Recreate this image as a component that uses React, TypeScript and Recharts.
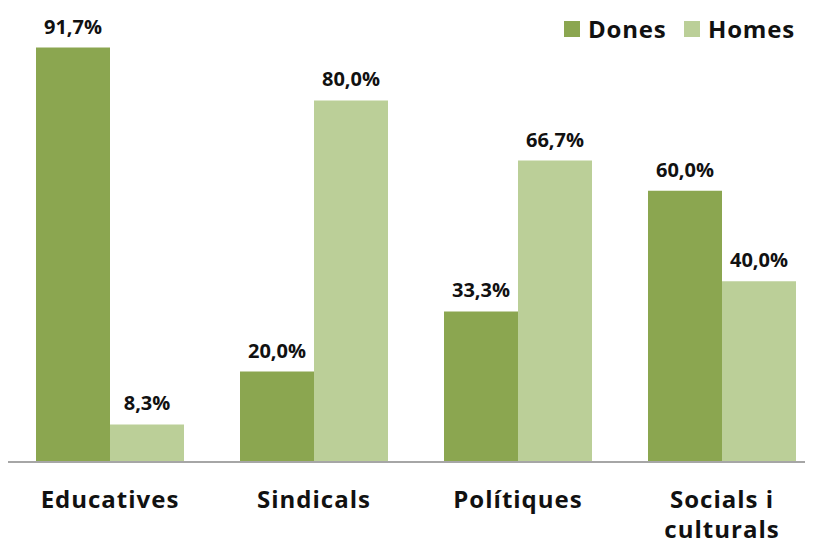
import { Bar, BarChart, LabelList, XAxis, YAxis } from "recharts";

const categories = ["Educatives", "Sindicals", "Polítiques", "Socials i culturals"];
const tickLines: Record<string, string[]> = {
  Educatives: ["Educatives"],
  Sindicals: ["Sindicals"],
  Polítiques: ["Polítiques"],
  "Socials i culturals": ["Socials i", "culturals"],
};
const dones = [91.7, 20.0, 33.3, 60.0];
const homes = [8.3, 80.0, 66.7, 40.0];

const DARK = "#8ba650";
const LIGHT = "#bbcf98";
const FONT = "'Open Sans', sans-serif";

const data = categories.map((name, i) => ({ name, dones: dones[i], homes: homes[i] }));

const fmtPct = (v: number) => v.toFixed(1).replace(".", ",") + "%";

function CategoryTick(props: any) {
  const { x, y, payload } = props;
  const lines = tickLines[payload.value] ?? [payload.value];
  return (
    <text
      x={x}
      y={y}
      textAnchor="middle"
      fill="#111"
      fontFamily={FONT}
      fontWeight={700}
      fontSize={24}
      letterSpacing={1}
    >
      {lines.map((l, i) => (
        <tspan key={l} x={x} dy={i === 0 ? 46 : 30}>
          {l}
        </tspan>
      ))}
    </text>
  );
}

function LegendBox() {
  const item = (color: string, label: string, left: number) => (
    <div style={{ position: "absolute", left, top: 0, display: "flex", alignItems: "center" }}>
      <div style={{ width: 16, height: 16, background: color, marginRight: 8 }} />
      <span
        style={{
          fontFamily: FONT,
          fontWeight: 700,
          fontSize: 24,
          letterSpacing: 0.8,
          color: "#111",
          lineHeight: "16px",
        }}
      >
        {label}
      </span>
    </div>
  );
  return (
    <div style={{ position: "absolute", left: 0, top: 13 }}>
      {item(DARK, "Dones", 556)}
      {item(LIGHT, "Homes", 676)}
    </div>
  );
}

const labelStyle = { fontFamily: FONT, fontWeight: 700, fontSize: 20, fill: "#111" };

export default function App() {
  return (
    <div style={{ position: "relative", width: 805, height: 536 }}>
      <BarChart
        width={805}
        height={536}
        data={data}
        margin={{ top: 2, right: -11, left: 0, bottom: 0 }}
        barCategoryGap={28}
        barGap={0}
      >
        <XAxis
          dataKey="name"
          height={82}
          tickLine={false}
          tickSize={0}
          tickMargin={0}
          axisLine={{ stroke: "#a6a6a6", strokeWidth: 2 }}
          tick={<CategoryTick />}
          interval={0}
        />
        <YAxis hide domain={[0, 100]} />
        <Bar dataKey="dones" fill={DARK} barSize={74} isAnimationActive={false}>
          <LabelList
            dataKey="dones"
            position="top"
            offset={14}
            formatter={(v: any) => fmtPct(Number(v))}
            style={labelStyle}
          />
        </Bar>
        <Bar dataKey="homes" fill={LIGHT} barSize={74} isAnimationActive={false}>
          <LabelList
            dataKey="homes"
            position="top"
            offset={14}
            formatter={(v: any) => fmtPct(Number(v))}
            style={labelStyle}
          />
        </Bar>
      </BarChart>
      <LegendBox />
    </div>
  );
}
